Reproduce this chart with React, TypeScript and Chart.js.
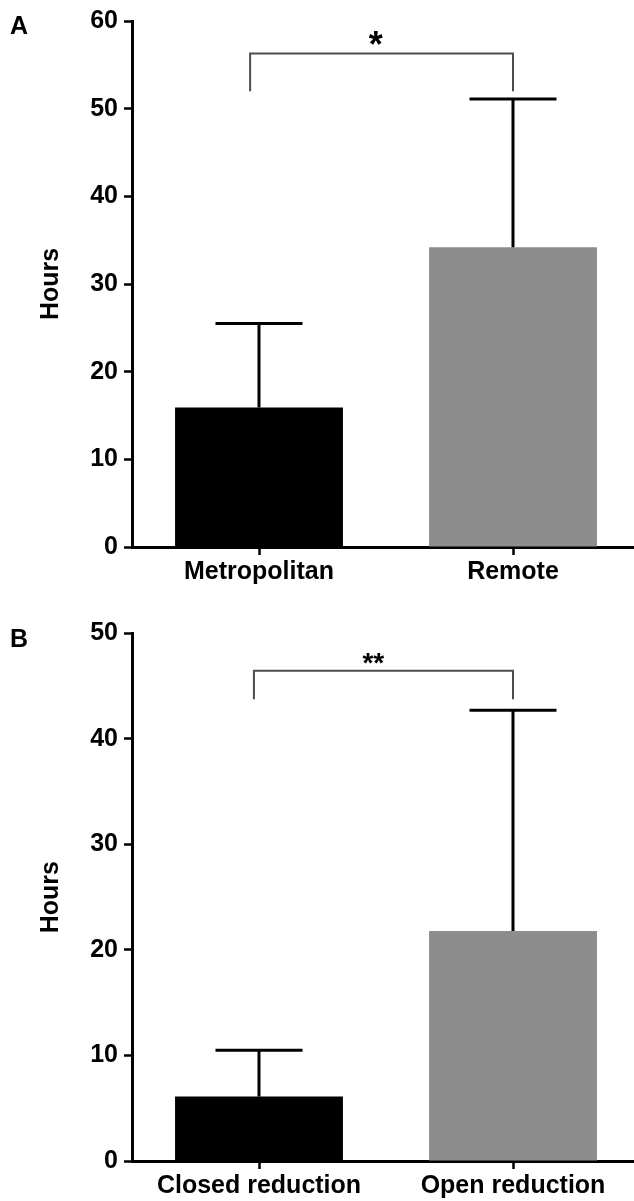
import React, { useEffect, useRef } from "react";
import { Chart, registerables } from "chart.js";

Chart.register(...registerables);

const FONT = "'Liberation Sans', Arial, Helvetica, sans-serif";

// ---------- Panel A data ----------
const categoriesA = ["Metropolitan", "Remote"];
const meansA = [15.9, 34.2];
const sdA = [9.6, 16.9];
const yTicksA = [0, 10, 20, 30, 40, 50, 60];
const bracketXA = [-0.035, 1];
const bracketYA = [52.0, 56.3, 52.0];
const sigLabelA = "*";
const sigPosA = [0.46, 58.3];

// ---------- Panel B data ----------
const categoriesB = ["Closed reduction", "Open reduction"];
const meansB = [6.1, 21.8];
const sdB = [4.4, 20.9];
const yTicksB = [0, 10, 20, 30, 40, 50];
const bracketXB = [-0.02, 1];
const bracketYB = [43.75, 46.45, 43.75];
const sigLabelB = "**";
const sigPosB = [0.45, 47.9];

const barColors = ["#000000", "#8d8d8d"];
const yTitle = "Hours";

type PanelProps = {
  letter: string;
  categories: string[];
  means: number[];
  sds: number[];
  yTicks: number[];
  bracketX: number[];
  bracketY: number[];
  sigLabel: string;
  sigPos: number[];
  top: number;
  height: number;
  padTop: number;
  xHeight: number;
  letterBaseline: number;
  sigFont: number;
};

function Panel(p: PanelProps) {
  const ref = useRef<HTMLCanvasElement | null>(null);
  useEffect(() => {
    if (!ref.current) return;
    const annot = {
      id: "annot" + p.letter,
      afterDatasetsDraw(chart: any) {
        const ctx = chart.ctx;
        const xs = chart.scales.x;
        const ys = chart.scales.y;
        const meta = chart.getDatasetMeta(0);
        ctx.save();
        // error bars
        ctx.strokeStyle = "#000";
        ctx.lineWidth = 3;
        ctx.lineCap = "butt";
        meta.data.forEach((bar: any, i: number) => {
          const t = ys.getPixelForValue(p.means[i] + p.sds[i]);
          ctx.beginPath();
          ctx.moveTo(bar.x, bar.y);
          ctx.lineTo(bar.x, t);
          ctx.moveTo(bar.x - 43.5, t);
          ctx.lineTo(bar.x + 43.5, t);
          ctx.stroke();
        });
        // significance bracket
        const x1 = xs.getPixelForValue(p.bracketX[0]);
        const x2 = xs.getPixelForValue(p.bracketX[1]);
        ctx.strokeStyle = "#4d4d4d";
        ctx.lineWidth = 2;
        ctx.beginPath();
        ctx.moveTo(x1, ys.getPixelForValue(p.bracketY[0]));
        ctx.lineTo(x1, ys.getPixelForValue(p.bracketY[1]));
        ctx.lineTo(x2, ys.getPixelForValue(p.bracketY[1]));
        ctx.lineTo(x2, ys.getPixelForValue(p.bracketY[2]));
        ctx.stroke();
        // significance label
        ctx.fillStyle = "#000";
        ctx.font = `bold ${p.sigFont}px ${FONT}`;
        ctx.textAlign = "center";
        ctx.textBaseline = "alphabetic";
        ctx.fillText(
          p.sigLabel,
          xs.getPixelForValue(p.sigPos[0]),
          ys.getPixelForValue(p.sigPos[1]) + 0.58 * p.sigFont
        );
        ctx.restore();
      },
      afterDraw(chart: any) {
        const ctx = chart.ctx;
        ctx.save();
        ctx.fillStyle = "#000";
        ctx.font = `bold 25px ${FONT}`;
        ctx.textAlign = "left";
        ctx.textBaseline = "alphabetic";
        ctx.fillText(p.letter, 10, p.letterBaseline);
        ctx.restore();
      },
    };
    const chart = new Chart(ref.current, {
      type: "bar",
      data: {
        labels: p.categories,
        datasets: [
          {
            data: p.means,
            backgroundColor: barColors,
            borderWidth: 0,
            barPercentage: 0.661,
            categoryPercentage: 1,
          },
        ],
      },
      options: {
        responsive: false,
        animation: false,
        events: [],
        layout: { padding: { top: p.padTop, right: 0, bottom: 0, left: 0 } },
        plugins: { legend: { display: false }, tooltip: { enabled: false }, title: { display: false } },
        scales: {
          x: {
            type: "category",
            offset: true,
            grid: {
              display: true,
              drawOnChartArea: false,
              offset: false,
              drawTicks: true,
              tickLength: 8,
              tickWidth: 2.5,
              tickColor: "#000",
            },
            border: { display: true, color: "#000", width: 3 },
            ticks: {
              color: "#000",
              font: { family: FONT, size: 25, weight: "bold" },
              padding: 2,
              maxRotation: 0,
              autoSkip: false,
            },
            afterFit: (s: any) => {
              s.height = p.xHeight;
            },
          },
          y: {
            min: p.yTicks[0],
            max: p.yTicks[p.yTicks.length - 1],
            ticks: {
              stepSize: p.yTicks[1] - p.yTicks[0],
              color: "#000",
              font: { family: FONT, size: 25, weight: "bold" },
              padding: 6,
            },
            grid: {
              display: true,
              drawOnChartArea: false,
              drawTicks: true,
              tickLength: 8,
              tickWidth: 2.5,
              tickColor: "#000",
            },
            border: { display: true, color: "#000", width: 3 },
            title: {
              display: true,
              text: yTitle,
              color: "#000",
              font: { family: FONT, size: 25, weight: "bold" },
              padding: { top: 36, bottom: 0 },
            },
            afterFit: (s: any) => {
              s.width = 132;
            },
          },
        },
      },
      plugins: [annot],
    } as any);
    return () => chart.destroy();
  }, []);
  return (
    <canvas
      ref={ref}
      width={640}
      height={p.height}
      style={{ position: "absolute", left: 0, top: p.top, width: 640, height: p.height, display: "block" }}
    />
  );
}

export default function App() {
  return (
    <div
      style={{
        position: "fixed",
        left: 0,
        top: 0,
        width: 634,
        height: 1201,
        overflow: "hidden",
        background: "#fff",
      }}
    >
      <Panel
        letter="A"
        categories={categoriesA}
        means={meansA}
        sds={sdA}
        yTicks={yTicksA}
        bracketX={bracketXA}
        bracketY={bracketYA}
        sigLabel={sigLabelA}
        sigPos={sigPosA}
        top={0}
        height={600}
        padTop={20}
        xHeight={53}
        letterBaseline={34}
        sigFont={36}
      />
      <Panel
        letter="B"
        categories={categoriesB}
        means={meansB}
        sds={sdB}
        yTicks={yTicksB}
        bracketX={bracketXB}
        bracketY={bracketYB}
        sigLabel={sigLabelB}
        sigPos={sigPosB}
        top={600}
        height={601}
        padTop={33.3}
        xHeight={40}
        letterBaseline={47}
        sigFont={28}
      />
    </div>
  );
}
